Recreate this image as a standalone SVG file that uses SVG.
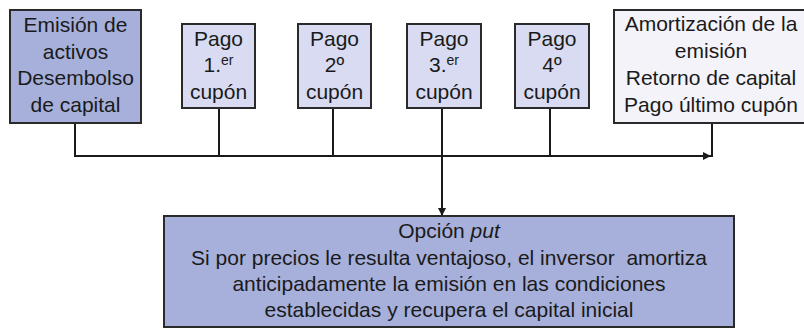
<svg xmlns="http://www.w3.org/2000/svg" width="804" height="329" viewBox="0 0 804 329">
<style>
.box{stroke:#2a2a2a;stroke-width:2}
.dark{fill:#a7b0da}
.mid{fill:#d8dbf1}
.light{fill:#f3f3f9}
text{font-family:"Liberation Sans",Arial,sans-serif;font-size:21px;fill:#1a1a1a;text-anchor:middle}
.sup{font-size:14px}
.conn{stroke:#1a1a1a;stroke-width:2;fill:none}
</style>
<defs>
<marker id="arr" viewBox="0 0 10 10" refX="10" refY="5" markerWidth="4" markerHeight="4" orient="auto" markerUnits="strokeWidth">
<path d="M0,0 L10,5 L0,10 z" fill="#1a1a1a"/>
</marker>
</defs>
<g id="connectors">
<line class="conn" x1="75" y1="123" x2="75" y2="156"/>
<line class="conn" x1="219" y1="108" x2="219" y2="156"/>
<line class="conn" x1="333" y1="108" x2="333" y2="156"/>
<line class="conn" x1="550" y1="108" x2="550" y2="156"/>
<line class="conn" x1="712" y1="123" x2="712" y2="157"/>
<line class="conn" x1="74" y1="156" x2="711" y2="156" marker-end="url(#arr)"/>
<line class="conn" x1="442" y1="108" x2="442" y2="216" marker-end="url(#arr)"/>
</g>
<g id="emision">
<rect class="box dark" x="10" y="10" width="131" height="113"/>
<text x="75.5" y="32">Emisión de</text>
<text x="75.5" y="58.5">activos</text>
<text x="75.5" y="85">Desembolso</text>
<text x="75.5" y="111.5">de capital</text>
</g>
<g id="pago1">
<rect class="box mid" x="182" y="24" width="73" height="84"/>
<text x="218.5" y="46">Pago</text>
<text x="218.5" y="72">1.<tspan class="sup" dy="-7">er</tspan></text>
<text x="218.5" y="98.5">cupón</text>
</g>
<g id="pago2">
<rect class="box mid" x="298" y="24" width="73" height="84"/>
<text x="334.5" y="46">Pago</text>
<text x="334.5" y="72">2º</text>
<text x="334.5" y="98.5">cupón</text>
</g>
<g id="pago3">
<rect class="box mid" x="407" y="24" width="74" height="84"/>
<text x="444" y="46">Pago</text>
<text x="444" y="72">3.<tspan class="sup" dy="-7">er</tspan></text>
<text x="444" y="98.5">cupón</text>
</g>
<g id="pago4">
<rect class="box mid" x="515" y="24" width="74" height="84"/>
<text x="552" y="46">Pago</text>
<text x="552" y="72">4º</text>
<text x="552" y="98.5">cupón</text>
</g>
<g id="amortizacion">
<rect class="box light" x="614" y="10" width="194" height="113"/>
<text x="711" y="31">Amortización de la</text>
<text x="711" y="58">emisión</text>
<text x="711" y="85">Retorno de capital</text>
<text x="711" y="111.5">Pago último cupón</text>
</g>
<g id="opcion">
<rect class="box dark" x="164" y="216" width="570" height="111"/>
<text x="449" y="238">Opción <tspan font-style="italic">put</tspan></text>
<text x="449" y="265" xml:space="preserve">Si por precios le resulta ventajoso, el inversor  amortiza</text>
<text x="449" y="291">anticipadamente la emisión en las condiciones</text>
<text x="449" y="317">establecidas y recupera el capital inicial</text>
</g>
</svg>
